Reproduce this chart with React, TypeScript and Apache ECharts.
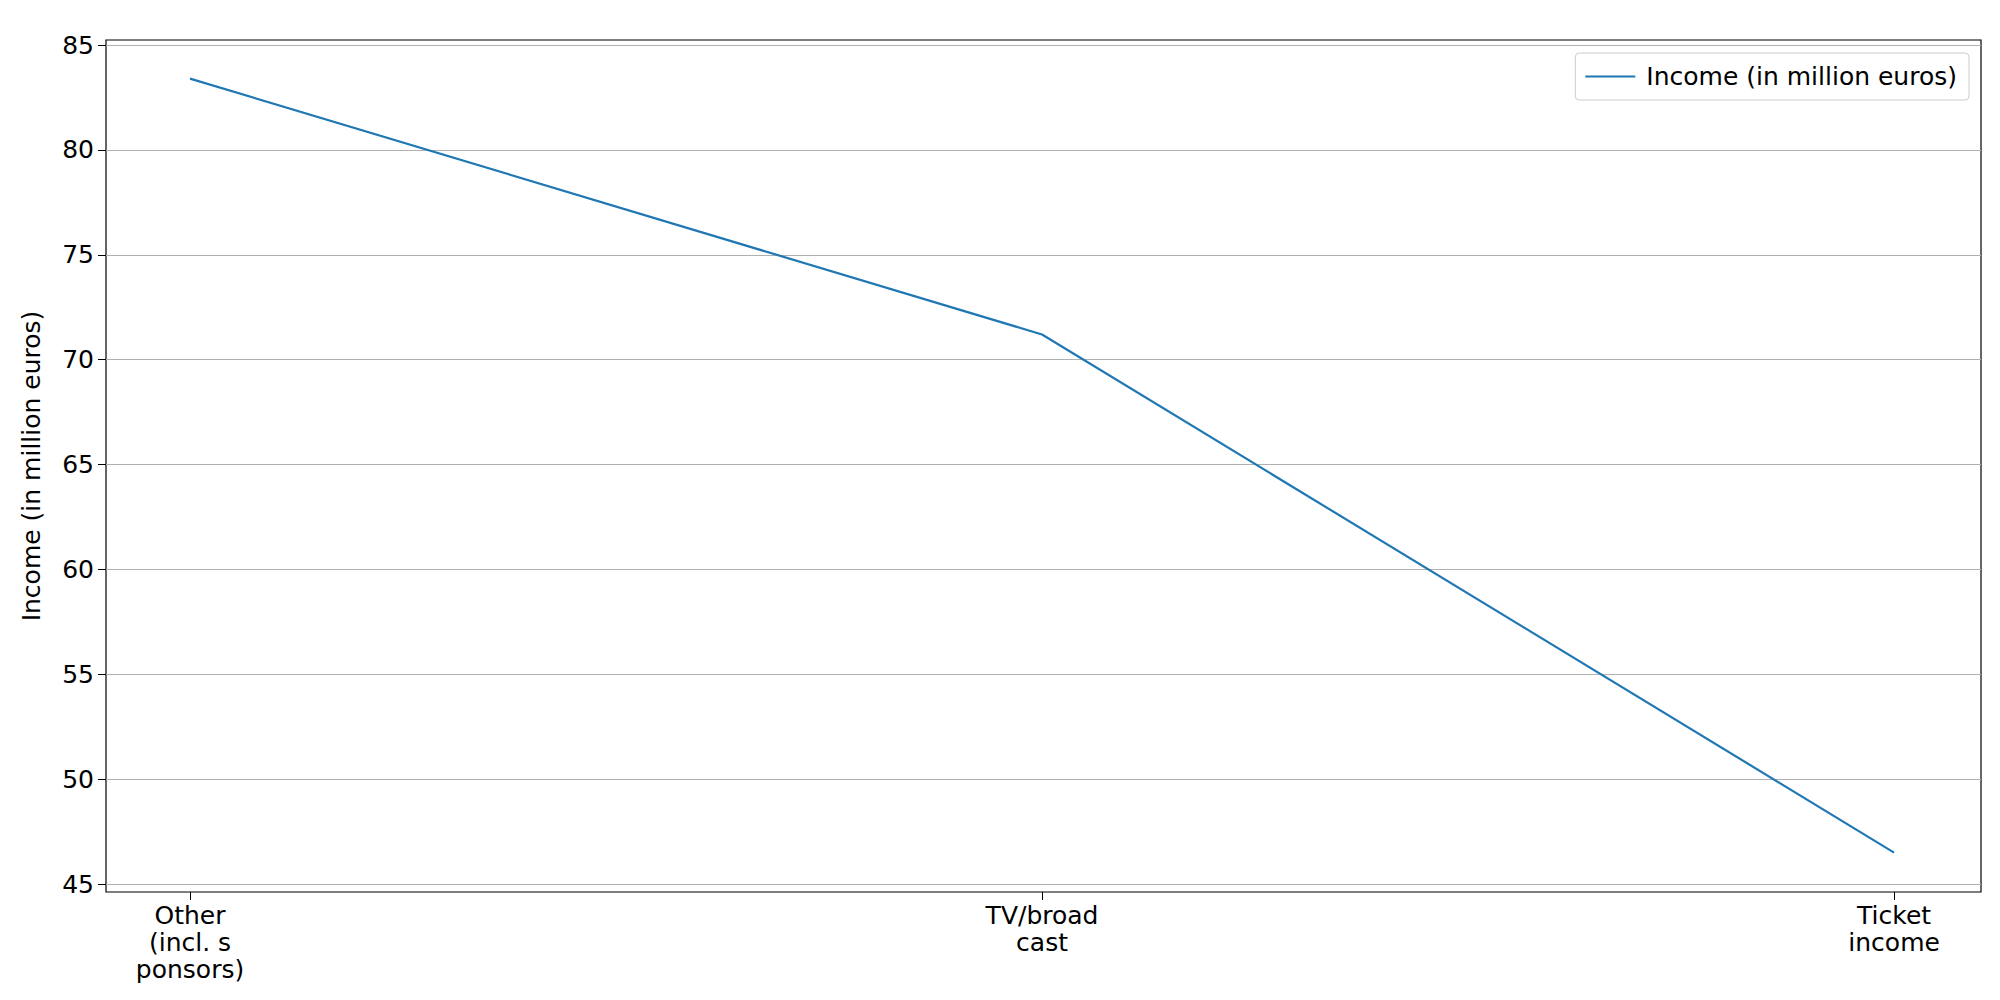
import React, { useEffect, useRef } from "react";
import * as echarts from "echarts";

const categories = ["Other\n(incl. s\nponsors)", "TV/broad\ncast", "Ticket\nincome"];
const income = [83.4, 71.2, 46.5];
const yTicks = [45, 50, 55, 60, 65, 70, 75, 80, 85];
const seriesName = "Income (in million euros)";

const App: React.FC = () => {
  const ref = useRef<HTMLDivElement>(null);

  useEffect(() => {
    if (!ref.current) return;
    const chart = echarts.init(ref.current, null, { renderer: "svg" });
    const font = "DejaVu Sans";
    chart.setOption({
      animation: false,
      textStyle: { fontFamily: font },
      grid: {
        left: 98, right: 27, top: 32, bottom: 116,
        show: true, borderColor: "#000", borderWidth: 1.2,
      },
      legend: {
        right: 39, top: 45,
        data: [seriesName],
        itemWidth: 50, itemHeight: 2,
        itemGap: 14,
        icon: "rect",
        padding: [11, 12, 11, 10],
        borderColor: "#ccc", borderWidth: 1, borderRadius: 4,
        textStyle: { fontSize: 25, color: "#000", fontFamily: font, padding: [0, 0, 0, 6] },
      },
      xAxis: {
        type: "value",
        min: -0.0986,
        max: 2.102,
        axisLine: { show: false, onZero: false },
        splitLine: { show: false },
        axisTick: { show: true, customValues: [0, 1, 2], length: 8, lineStyle: { color: "#000" } },
        axisLabel: {
          customValues: [0, 1, 2],
          formatter: (v: number) => categories[Math.round(v)],
          fontSize: 25, color: "#000", lineHeight: 27, margin: 10,
        },
      },
      yAxis: {
        type: "value",
        min: 44.62,
        max: 85.24,
        name: seriesName,
        nameLocation: "middle",
        nameGap: 62,
        nameTextStyle: { fontSize: 25, color: "#000" },
        axisLine: { show: false, onZero: false },
        axisTick: { show: true, customValues: yTicks, length: 8, lineStyle: { color: "#000" } },
        axisLabel: { customValues: yTicks, fontSize: 25, color: "#000", margin: 12 },
        splitLine: { show: true, lineStyle: { color: "#b0b0b0", width: 1.2 } },
      },
      series: [
        {
          name: seriesName,
          type: "line",
          data: income.map((v, i) => [i, v]),
          symbol: "none",
          lineStyle: { color: "#1f77b4", width: 2.2 },
          itemStyle: { color: "#1f77b4" },
        },
      ],
    });
    return () => chart.dispose();
  }, []);

  return <div ref={ref} style={{ width: 2000, height: 1000 }} />;
};

export default App;
